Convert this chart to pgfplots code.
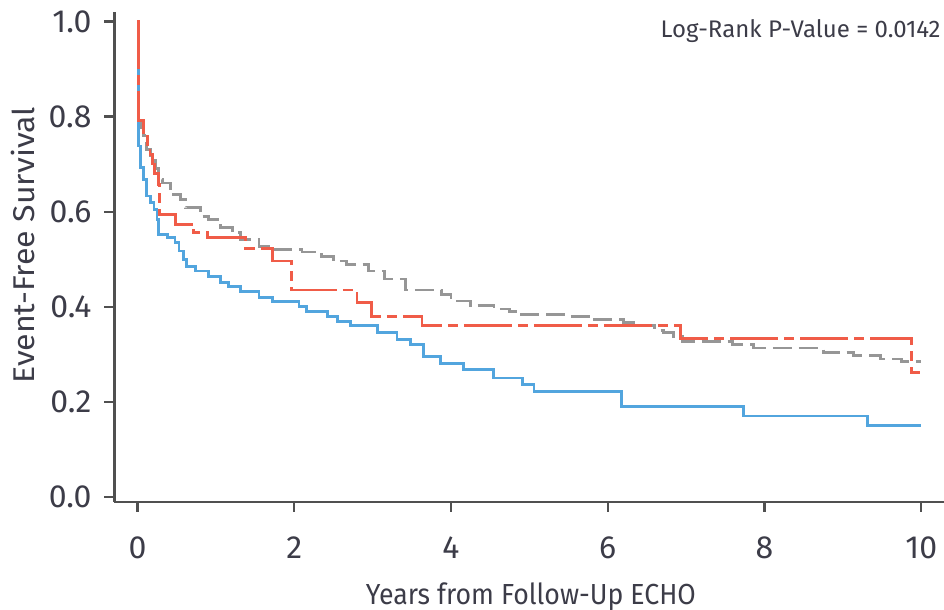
\documentclass[border=0pt]{standalone}
\usepackage{pgfplots}
\pgfplotsset{compat=1.18}
\usepackage{fontspec}
\setmainfont{Fira Sans}
\newfontfamily\xlabfont{Fira Sans}[FakeStretch=0.92]
\newfontfamily\ylabfont{Fira Sans}[FakeStretch=1.07]
\definecolor{kmred}{RGB}{240,92,72}
\definecolor{kmblue}{RGB}{82,165,222}
\definecolor{kmgrey}{RGB}{150,150,150}
\definecolor{axgrey}{RGB}{80,80,80}
\definecolor{txt}{RGB}{60,60,72}
\begin{document}
\begin{tikzpicture}
\useasboundingbox (-57.25pt,-54pt) rectangle (414.75pt,251pt);
\begin{axis}[
  scale only axis, width=414.75pt, height=245pt,
  xmin=-0.293, xmax=10.29, ymin=-0.011, ymax=1.02,
  axis lines=left,
  axis line style={-, axgrey, line width=1.3pt},
  xtick={0,2,4,6,8,10},
  ytick={0,0.2,0.4,0.6,0.8,1.0},
  tick align=outside, major tick length=5pt,
  tick style={axgrey, line width=1.1pt},
  /pgf/number format/assume math mode=true,
  yticklabel style={/pgf/number format/fixed, /pgf/number format/fixed zerofill, /pgf/number format/precision=1, xshift=-3pt},
  xticklabel style={yshift=-9pt},
  ticklabel style={font=\fontsize{16}{19}\selectfont, text=txt},
  xlabel={Years from Follow-Up ECHO},
  ylabel={Event-Free Survival},
  every axis x label/.style={at={(axis description cs:0.502,-0.194)}, anchor=center, font=\xlabfont\fontsize{14.5}{17}\selectfont, text=txt},
  every axis y label/.style={at={(axis description cs:-0.1103,0.524)}, rotate=90, anchor=center, font=\ylabfont\fontsize{15}{18}\selectfont, text=txt},
  clip=false,
]
\addplot[const plot, kmgrey, line width=1.4pt, dash pattern=on 9.5pt off 3.5pt] coordinates {
(0,1.0) (0.01,0.80) (0.04,0.777) (0.08,0.76) (0.12,0.73) (0.166,0.71) (0.23,0.69)
(0.27,0.668) (0.315,0.66) (0.42,0.636) (0.55,0.626) (0.61,0.608) (0.80,0.59)
(0.91,0.584) (1.06,0.566) (1.21,0.556) (1.31,0.542) (1.55,0.527) (1.74,0.52)
(2.1,0.515) (2.35,0.505) (2.5,0.496) (2.67,0.489) (2.95,0.475) (3.15,0.458)
(3.42,0.435) (3.88,0.425) (4.0,0.412) (4.25,0.403) (4.55,0.395) (4.75,0.39)
(4.9,0.383) (5.5,0.38) (5.75,0.373) (6.2,0.366) (6.33,0.36) (6.6,0.35)
(6.71,0.345) (6.84,0.338) (6.95,0.327) (7.59,0.32) (7.86,0.313) (8.75,0.304)
(9.14,0.297) (9.48,0.29) (9.75,0.285) (10.0,0.285)
};
\addplot[const plot, kmblue, line width=1.4pt] coordinates {
(0,1.0) (0.01,0.738) (0.04,0.693) (0.08,0.668) (0.12,0.633) (0.17,0.619)
(0.21,0.605) (0.25,0.584) (0.27,0.552) (0.38,0.545) (0.48,0.535) (0.53,0.517)
(0.59,0.499) (0.63,0.485) (0.74,0.475) (0.91,0.464) (1.06,0.45) (1.16,0.443)
(1.31,0.432) (1.55,0.419) (1.72,0.411) (2.06,0.401) (2.16,0.39) (2.42,0.38)
(2.55,0.369) (2.72,0.361) (3.06,0.345) (3.31,0.331) (3.48,0.32) (3.65,0.295)
(3.87,0.281) (4.16,0.267) (4.54,0.25) (4.91,0.236) (5.06,0.222) (6.18,0.19)
(7.73,0.17) (9.31,0.15) (10.0,0.15)
};
\addplot[const plot, kmred, line width=1.4pt, dash pattern=on 24pt off 3pt on 5pt off 3pt] coordinates {
(0,1.0) (0.01,0.791) (0.08,0.767) (0.13,0.74) (0.16,0.72) (0.19,0.70)
(0.22,0.68) (0.27,0.657) (0.285,0.594) (0.485,0.573) (0.72,0.556)
(0.89,0.545) (1.38,0.523) (1.72,0.496) (1.97,0.435) (2.80,0.408)
(2.99,0.380) (3.63,0.361) (6.93,0.333) (9.88,0.262) (9.99,0.262)
};
\end{axis}
\node[anchor=base east, font=\fontsize{12}{14}\selectfont, text=txt, inner sep=0pt] at (413.25pt,232pt) {Log-Rank P-Value = 0.0142};
\end{tikzpicture}
\end{document}
